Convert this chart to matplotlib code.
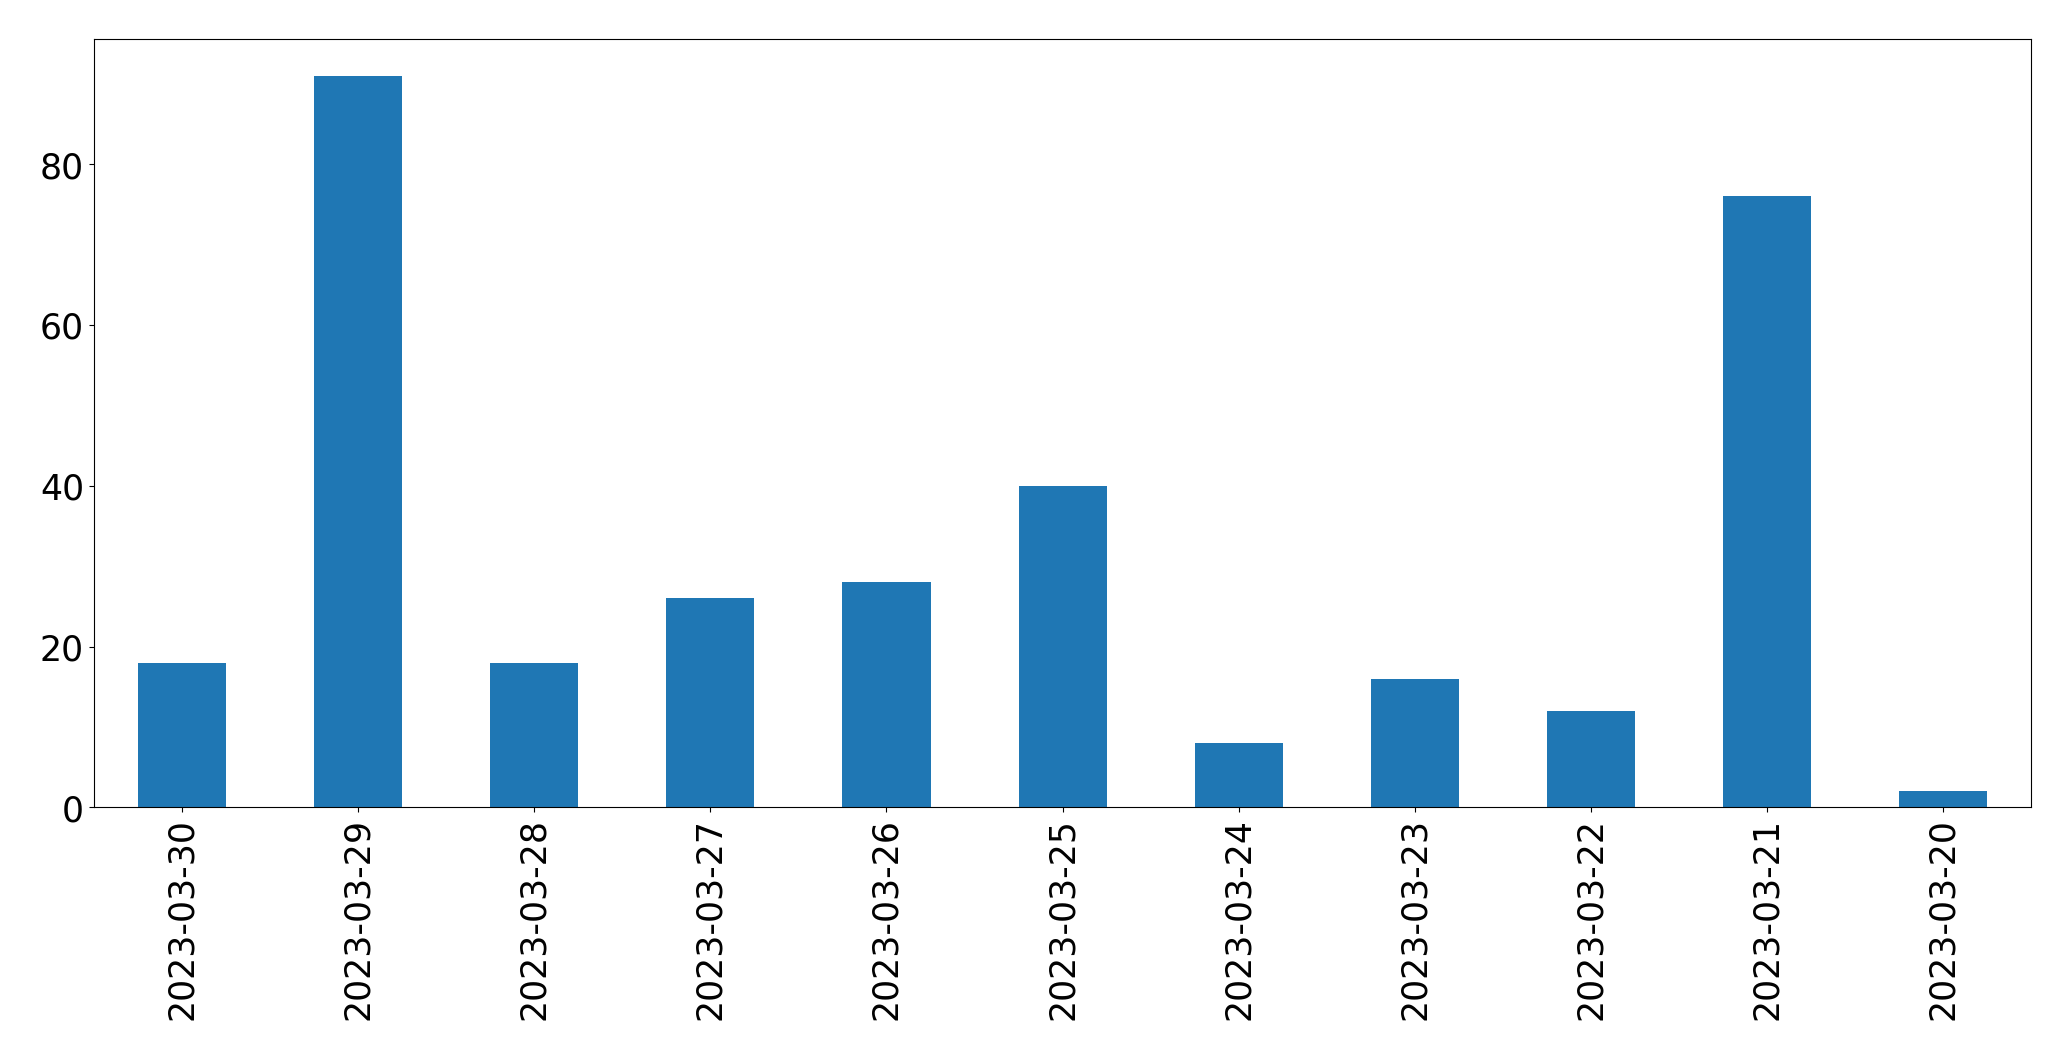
import matplotlib
matplotlib.use("Agg")
import matplotlib.pyplot as plt

dates = ["2023-03-30", "2023-03-29", "2023-03-28", "2023-03-27", "2023-03-26",
         "2023-03-25", "2023-03-24", "2023-03-23", "2023-03-22", "2023-03-21",
         "2023-03-20"]
counts = [18, 91, 18, 26, 28, 40, 8, 16, 12, 76, 2]

fig = plt.figure(figsize=(20.71, 10.605), dpi=100)
ax = fig.add_axes([0.0453, 0.2381, 0.9356, 0.7246])

x = list(range(len(dates)))
ax.bar(x, counts, width=0.5, color="#1f77b4")
ax.set_xlim(-0.5, len(dates) - 0.5)
ax.set_ylim(0, max(counts) * 1.05)
ax.set_xticks(x)
ax.set_xticklabels(dates, rotation=90)
ax.tick_params(labelsize=25)

plt.savefig("out.png", dpi=100)
plt.close(fig)
